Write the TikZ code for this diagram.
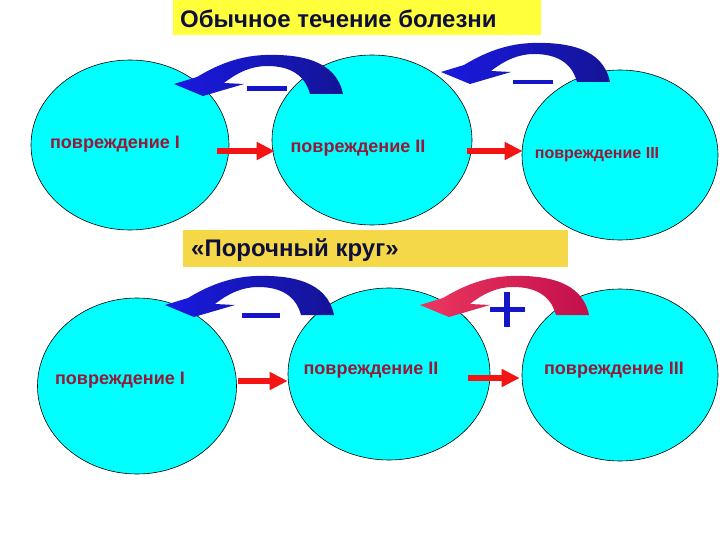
\documentclass[tikz,border=0pt]{standalone}
\usepackage{fontspec}
\setmainfont{Liberation Sans}
\usetikzlibrary{shapes.geometric,arrows.meta}
\definecolor{cyanfill}{RGB}{0,255,255}
\definecolor{titleyellow}{RGB}{255,255,60}
\definecolor{boxgold}{RGB}{245,216,72}
\definecolor{navytext}{RGB}{15,15,60}
\definecolor{lbltext}{RGB}{150,25,55}
\definecolor{arrred}{RGB}{245,20,20}
\definecolor{blueL}{RGB}{25,25,225}
\definecolor{blueR}{RGB}{20,20,150}
\definecolor{crimL}{RGB}{235,55,95}
\definecolor{crimR}{RGB}{195,15,75}
\definecolor{signblue}{RGB}{20,20,200}
\newcommand\myarrowshape{(343,94) .. controls (336,60) and (300,54) .. (265,55) .. controls (235,56) and (212,68) .. (197,77) -- (174,84) -- (203,96) -- (244,84) -- (224,83) .. controls (238,72) and (252,66) .. (267,66) .. controls (290,66) and (305,75) .. (310,94) -- cycle}
\tikzset{
  blob/.style={ellipse, draw=black, line width=0.6pt, fill=cyanfill, inner sep=0pt},
  lbl/.style={font=\bfseries\fontsize{18}{20}\selectfont, text=lbltext, inner sep=0pt},
  headbox/.style={font=\bfseries\fontsize{24}{27}\selectfont, text=navytext, anchor=west, inner sep=0pt},
  redarrow/.style={draw=arrred, line width=6pt, -{Triangle[length=18pt,width=17pt]}},
  bluecurve/.style={left color=blueL, right color=blueR},
  crimcurve/.style={left color=crimL, right color=crimR},
}
\begin{document}
\begin{tikzpicture}[x=1pt,y=-1pt]
\useasboundingbox (0,0) rectangle (720,540);
% title boxes
\fill[titleyellow] (173,0) rectangle (541,35);
\node[headbox] (title) at (180,19) {Обычное течение болезни};
% top row ellipses
\node[blob, minimum width=198pt, minimum height=170pt] (e1) at (130,145) {};
\node[blob, minimum width=200pt, minimum height=170pt] (e2) at (372,140) {};
\node[blob, minimum width=196pt, minimum height=170pt] (e3) at (620,155) {};
\node[lbl] (t1) at (115,144) {повреждение I};
\node[lbl] (t2) at (358,148) {повреждение II};
\node[lbl, font=\bfseries\fontsize{16}{18}\selectfont] (t3) at (597,155) {повреждение III};
% curved arrows top
\shade[bluecurve] \myarrowshape;
\shade[bluecurve, shift={(267,-12)}] \myarrowshape;
\fill[signblue] (247,86) rectangle (287,91);
\fill[signblue] (513,80) rectangle (553,84.5);
% red arrows top
\draw[redarrow] ([xshift=-12pt,yshift=-6pt]e1.east) coordinate (s1) -- ([xshift=3pt]s1 -| e2.west);
\draw[redarrow] ([xshift=-5pt,yshift=-11pt]e2.east) coordinate (s2) -- ([xshift=1pt]s2 -| e3.west);
% second box
\fill[boxgold] (183,230) rectangle (568,267);
\node[headbox] (vc) at (191,250) {«Порочный круг»};
% bottom row ellipses
\node[blob, minimum width=199pt, minimum height=176pt] (e4) at (137,386) {};
\node[blob, minimum width=202pt, minimum height=172pt] (e5) at (389,374) {};
\node[blob, minimum width=196pt, minimum height=172pt] (e6) at (620,375) {};
\node[lbl] (t4) at (120,380) {повреждение I};
\node[lbl] (t5) at (371,370) {повреждение II};
\node[lbl] (t6) at (614,370) {повреждение III};
% curved arrows bottom
\shade[bluecurve, shift={(-9,221)}] \myarrowshape;
\shade[crimcurve, shift={(246,221)}] \myarrowshape;
\fill[signblue] (242,313) rectangle (280,317.5);
\fill[signblue] (490,307) rectangle (525,312);
\fill[signblue] (504,292) rectangle (510,327);
% red arrows bottom
\draw[redarrow] ([xshift=1pt,yshift=5pt]e4.east) coordinate (s4) -- (s4 -| e5.west);
\draw[redarrow] ([xshift=-22pt,yshift=-4pt]e5.east) coordinate (s5) -- ([xshift=-2pt]s5 -| e6.west);
\end{tikzpicture}
\end{document}
